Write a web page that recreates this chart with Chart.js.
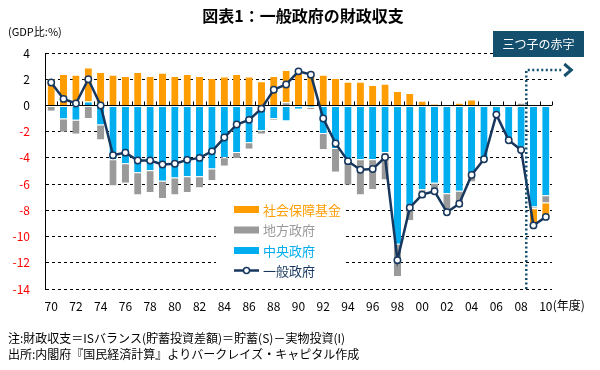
<!DOCTYPE html>
<html>
<head>
<meta charset="utf-8">
<script src="https://cdn.jsdelivr.net/npm/chart.js@4.4.1/dist/chart.umd.min.js"></script>
<style>
  html, body { margin: 0; padding: 0; background: #fff; }
  #wrap { width: 600px; height: 370px; }
</style>
</head>
<body>
<div id="wrap"><canvas id="chart" width="600" height="370"></canvas></div>
<script>
// =========================
// data (GDP比 %)
// =========================
const years = [1970, 1971, 1972, 1973, 1974, 1975, 1976, 1977, 1978, 1979,
  1980, 1981, 1982, 1983, 1984, 1985, 1986, 1987, 1988, 1989,
  1990, 1991, 1992, 1993, 1994, 1995, 1996, 1997, 1998, 1999,
  2000, 2001, 2002, 2003, 2004, 2005, 2006, 2007, 2008, 2009, 2010];

const central = [0, -1.0, -1.1, 0.3, -1.45, -4.1, -4.4, -5.1, -4.95, -5.75,
  -5.5, -5.4, -5.4, -4.8, -3.95, -3.55, -2.8, -1.9, -0.95, -1.15,
  -0.25, -0.12, -2.1, -3.25, -4.05, -4.1, -4.1, -3.55, -10.55, -7.75,
  -6.4, -5.9, -6.7, -6.5, -5.15, -4.05, -0.7, -2.6, -3.15, -7.7, -6.85];

const local = [-0.4, -1.0, -1.05, -0.95, -1.15, -2.0, -1.5, -1.7, -1.65, -1.3,
  -1.3, -1.2, -0.85, -0.9, -0.65, -0.45, -0.5, -0.25, -0.15, 0.25,
  0, -0.17, -1.25, -1.8, -2.0, -2.7, -2.3, -2.1, -2.45, -1.0,
  -0.7, -0.8, -1.2, -1.25, -0.65, -0.1, 0, 0, 0.2, -0.15, -0.55];

const social = [2.1, 2.4, 2.35, 2.6, 2.55, 2.35, 2.25, 2.55, 2.25, 2.5,
  2.25, 2.4, 2.25, 2.1, 2.2, 2.4, 2.2, 1.85, 2.25, 2.45,
  2.75, 2.65, 2.35, 2.1, 1.8, 1.8, 1.55, 1.65, 1.1, 0.95,
  0.35, 0.1, -0.3, 0.2, 0.45, 0, 0, 0, -0.35, -1.3, -1.1];

const general = [1.75, 0.5, 0.15, 2.0, 0.0, -3.8, -3.6, -4.2, -4.2, -4.5,
  -4.45, -4.15, -4.0, -3.5, -2.45, -1.45, -1.1, -0.25, 1.2, 1.6,
  2.6, 2.35, -1.0, -2.9, -4.25, -4.9, -4.85, -3.95, -11.8, -7.8,
  -6.8, -6.55, -8.15, -7.5, -5.3, -4.1, -0.7, -2.65, -3.4, -9.15, -8.5];

const yTicks = [4, 2, 0, -2, -4, -6, -8, -10, -12, -14];

const COL = {
  social: "#FF9C00",
  local: "#9A9A9A",
  central: "#00AEEF",
  general: "#17375E",
  note: "#14506E"
};
const JP = "'Noto Sans CJK JP', 'Noto Sans', sans-serif";

// =========================
// decorations
// =========================
const decor = {
  id: "decor",
  beforeDatasetsDraw(chart) {
    const { ctx, scales: { x, y } } = chart;
    const y0 = y.getPixelForValue(0);
    ctx.save();
    ctx.strokeStyle = "#000";
    ctx.lineWidth = 1;
    ctx.beginPath();
    for (let i = 0; i <= years.length; i++) {
      const px = Math.round(x.getPixelForValue(i) - (x.getPixelForValue(1) - x.getPixelForValue(0)) / 2) + 0.5;
      ctx.moveTo(px, y0);
      ctx.lineTo(px, y0 - 4);
    }
    ctx.stroke();
    ctx.restore();
  },
  afterDraw(chart) {
    const { ctx, chartArea: a, scales: { x, y } } = chart;
    ctx.save();

    // title
    ctx.fillStyle = "#000";
    ctx.font = "bold 16px " + JP;
    ctx.textAlign = "center";
    ctx.textBaseline = "middle";
    ctx.fillText("図表1：一般政府の財政収支", 303, 16);

    ctx.font = "11px " + JP;
    ctx.textAlign = "left";
    ctx.fillText("(GDP比:%)", 8, 32);

    // 年度
    ctx.font = "12px " + JP;
    const lastX = x.getPixelForValue(years.length - 1);
    ctx.textBaseline = "top";
    ctx.fillText("(年度)", lastX + 7, a.bottom + 10);

    // notes
    ctx.textBaseline = "middle";
    ctx.fillText("注:財政収支＝ISバランス(貯蓄投資差額)＝貯蓄(S)－実物投資(I)", 8, 338);
    ctx.fillText("出所:内閣府『国民経済計算』よりバークレイズ・キャピタル作成", 8, 354);

    // legend
    ctx.fillStyle = "#fff";
    ctx.fillRect(216, 198, 130, 84);
    const items = [
      ["社会保障基金", COL.social, "bar"],
      ["地方政府", COL.local, "bar"],
      ["中央政府", COL.central, "bar"],
      ["一般政府", COL.general, "line"]
    ];
    ctx.font = "13px " + JP;
    items.forEach((it, i) => {
      const ly = 209 + i * 20.5;
      if (it[2] === "bar") {
        ctx.fillStyle = it[1];
        ctx.fillRect(234, ly - 3, 25, 7);
      } else {
        ctx.strokeStyle = it[1];
        ctx.lineWidth = 2.5;
        ctx.beginPath();
        ctx.moveTo(234, ly);
        ctx.lineTo(259, ly);
        ctx.stroke();
        ctx.fillStyle = "#fff";
        ctx.lineWidth = 1.5;
        ctx.beginPath();
        ctx.arc(246.5, ly, 3, 0, Math.PI * 2);
        ctx.fill();
        ctx.stroke();
      }
      ctx.fillStyle = it[1];
      ctx.textAlign = "left";
      ctx.fillText(it[0], 263, ly + 1);
    });

    // 三つ子の赤字 marker
    const vx = (x.getPixelForValue(38) + x.getPixelForValue(39)) / 2 - 1;
    const hy = 70;
    ctx.strokeStyle = COL.note;
    ctx.lineWidth = 2.5;
    ctx.setLineDash([2, 2.5]);
    ctx.beginPath();
    ctx.moveTo(vx, a.bottom);
    ctx.lineTo(vx, hy);
    ctx.lineTo(vx + 36, hy);
    ctx.stroke();
    ctx.setLineDash([]);
    ctx.lineWidth = 3;
    ctx.beginPath();
    ctx.moveTo(vx + 38, hy - 6);
    ctx.lineTo(vx + 45, hy);
    ctx.lineTo(vx + 38, hy + 6);
    ctx.stroke();

    ctx.fillStyle = COL.note;
    ctx.fillRect(493, 31, 91, 26);
    ctx.fillStyle = "#fff";
    ctx.font = "12px " + JP;
    ctx.textAlign = "center";
    ctx.fillText("三つ子の赤字", 538.5, 44.5);

    ctx.restore();
  }
};

// =========================
// chart
// =========================
const barBase = {
  type: "bar",
  order: 1,
  stack: "gov",
  borderColor: "#fff",
  borderWidth: { top: 1, bottom: 0, left: 0, right: 0 },
  borderSkipped: false,
  barPercentage: 0.58,
  categoryPercentage: 1
};

new Chart(document.getElementById("chart"), {
  data: {
    labels: years,
    datasets: [
      {
        type: "line",
        label: "一般政府",
        data: general,
        order: 0,
        stack: "total",
        borderColor: COL.general,
        borderWidth: 2.5,
        pointRadius: 3.2,
        pointBackgroundColor: "#fff",
        pointBorderColor: COL.general,
        pointBorderWidth: 1.5,
        tension: 0
      },
      { ...barBase, label: "中央政府", data: central, backgroundColor: COL.central },
      { ...barBase, label: "地方政府", data: local, backgroundColor: COL.local },
      { ...barBase, label: "社会保障基金", data: social, backgroundColor: COL.social }
    ]
  },
  options: {
    responsive: false,
    animation: false,
    layout: { padding: { left: 0, top: 53, right: 48, bottom: 0 } },
    plugins: {
      legend: { display: false },
      tooltip: { enabled: false }
    },
    scales: {
      x: {
        stacked: true,
        offset: true,
        grid: { display: false, drawTicks: false },
        border: { display: false },
        afterFit: (s) => { s.height = 81; },
        ticks: {
          autoSkip: false,
          maxRotation: 0,
          padding: 10,
          color: "#000",
          font: { size: 12, family: JP },
          callback: function (v) {
            const yr = years[v];
            return yr % 2 === 0 ? String(yr).slice(2) : "";
          }
        }
      },
      y: {
        stacked: true,
        min: -14,
        max: 4,
        afterFit: (s) => { s.width = 45; },
        afterBuildTicks: (s) => { s.ticks = yTicks.map(v => ({ value: v })); },
        grid: {
          drawTicks: false,
          color: "#000",
          lineWidth: 1
        },
        border: {
          display: true,
          color: "#000",
          width: 1,
          dash: (c) => (c.tick && c.tick.value !== 0) ? [3, 3] : []
        },
        ticks: {
          padding: 15,
          color: (c) => (c.tick && c.tick.value < 0) ? "#FF0000" : "#000",
          font: { size: 12, family: JP }
        }
      }
    }
  },
  plugins: [decor]
});
</script>
</body>
</html>
